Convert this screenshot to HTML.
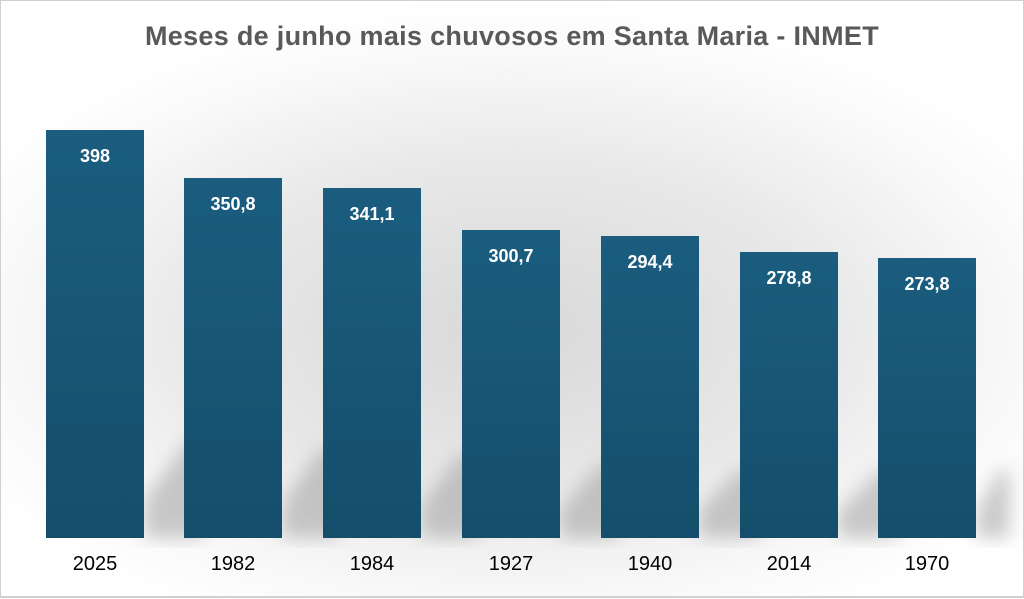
<!DOCTYPE html>
<html><head><meta charset="utf-8"><style>
html,body{margin:0;padding:0;}
body{width:1024px;height:599px;position:relative;overflow:hidden;font-family:"Liberation Sans",sans-serif;
background:radial-gradient(ellipse 620px 330px at 512px 330px,#d8d8d8 0%,#e8e8e8 50%,#fafafa 85%,#ffffff 100%);}
.frame{position:absolute;left:0;top:0;width:1022px;height:595px;border:1px solid #d0d0d0;border-bottom:2px solid #d0d0d0;}
.title{position:absolute;top:21px;left:0;width:1024px;text-align:center;font-size:27px;font-weight:bold;color:#595959;letter-spacing:0.3px;}
.bar{position:absolute;width:98px;bottom:61px;background:linear-gradient(#1b5d7f,#144e6b);}
.v{position:absolute;top:16px;width:100%;text-align:center;color:#fff;font-weight:bold;font-size:18px;}
.x{position:absolute;top:553px;width:120px;text-align:center;font-size:20px;color:#000;}
</style></head><body>
<svg width="1024" height="599" style="position:absolute;left:0;top:0">
<defs><filter id="b"><feGaussianBlur stdDeviation="9"/></filter></defs>
<g filter="url(#b)" fill="#a0a0a0" opacity="0.55">
<polygon points="144,538 144,500 190,440 250,440 200,538"/>
<polygon points="282,538 282,505 320,450 380,450 335,538"/>
<polygon points="421,538 421,505 460,455 520,455 475,538"/>
<polygon points="560,538 560,510 600,465 660,465 615,538"/>
<polygon points="699,538 699,510 740,470 800,470 755,538"/>
<polygon points="838,538 838,512 880,470 940,470 895,538"/>
<polygon points="976,538 976,512 1000,470 1010,470 1010,538"/>
</g></svg>
<div class="frame"></div>
<div class="title">Meses de junho mais chuvosos em Santa Maria - INMET</div>
<div class="bar" style="left:46px;top:130px"><div class="v">398</div></div>
<div class="bar" style="left:184px;top:178px"><div class="v">350,8</div></div>
<div class="bar" style="left:323px;top:188px"><div class="v">341,1</div></div>
<div class="bar" style="left:462px;top:230px"><div class="v">300,7</div></div>
<div class="bar" style="left:601px;top:236px"><div class="v">294,4</div></div>
<div class="bar" style="left:740px;top:252px"><div class="v">278,8</div></div>
<div class="bar" style="left:878px;top:258px"><div class="v">273,8</div></div>
<div class="x" style="left:35px">2025</div>
<div class="x" style="left:173px">1982</div>
<div class="x" style="left:312px">1984</div>
<div class="x" style="left:451px">1927</div>
<div class="x" style="left:590px">1940</div>
<div class="x" style="left:729px">2014</div>
<div class="x" style="left:867px">1970</div>
</body></html>
